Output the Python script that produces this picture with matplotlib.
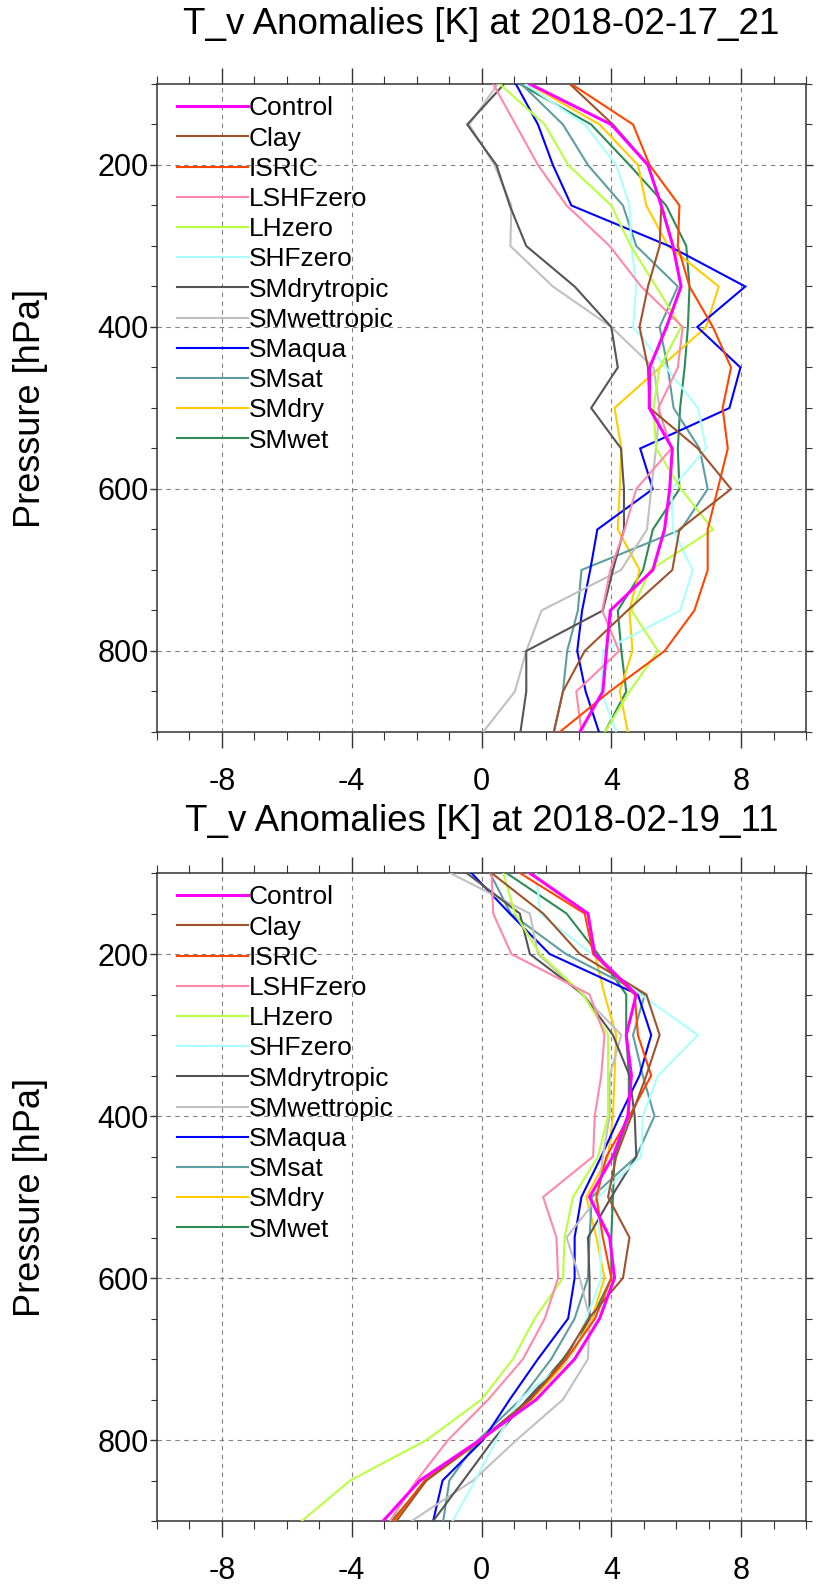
import matplotlib
matplotlib.use("Agg")
import matplotlib.pyplot as plt
from matplotlib.ticker import MultipleLocator, FixedLocator
import numpy as np

plt.rcParams['font.family'] = ['Liberation Sans', 'DejaVu Sans']
plt.rcParams['axes.unicode_minus'] = False

levels = [100, 150, 200, 250, 300, 350, 400, 450, 500, 550, 600, 650, 700, 750, 800, 850, 900]

names = ["Control", "Clay", "ISRIC", "LSHFzero", "LHzero", "SHFzero", "SMdrytropic",
         "SMwettropic", "SMaqua", "SMsat", "SMdry", "SMwet"]
colors = ["#FF00FF", "#A0522D", "#FF4500", "#FF88AA", "#B8FF40", "#AAFFFF", "#555555",
          "#C0C0C0", "#0000FF", "#5F9EA0", "#FFCC00", "#2E8B57"]

titles = ["T_v Anomalies [K] at 2018-02-17_21", "T_v Anomalies [K] at 2018-02-19_11"]

# Panel 1: 2018-02-17_21
control1 = [1.49, 4.0, 5.13, 5.54, 5.9, 6.15, 5.7, 5.18, 5.17, 5.88, 5.8, 5.64, 5.28, 3.97, 3.85, 3.74, 3.03]
clay1 = [2.72, 4.05, 5.13, 5.54, 5.49, 5.13, 4.87, 5.13, 5.18, 6.67, 7.69, 6.1, 5.88, 4.5, 3.18, 2.51, 2.23]
isric1 = [2.77, 4.67, 5.18, 6.1, 6.05, 6.41, 7.13, 7.69, 7.43, 7.59, 7.28, 6.97, 6.97, 6.56, 5.64, 3.95, 2.41]
lshf1 = [0.36, 1.05, 1.74, 2.62, 3.95, 4.92, 6.2, 6.05, 5.45, 5.85, 4.77, 4.41, 3.97, 3.72, 4.24, 2.92, 3.08]
lh1 = [0.56, 1.95, 2.67, 4.0, 4.6, 5.38, 6.15, 5.49, 5.3, 5.38, 6.15, 7.13, 5.2, 4.62, 5.44, 4.56, 3.8]
shf1 = [1.35, 3.18, 4.15, 4.56, 4.62, 4.77, 4.67, 5.69, 6.67, 6.92, 5.85, 5.9, 6.51, 6.12, 3.74, 3.69, 4.15]
drytrop1 = [0.7, -0.44, 0.46, 0.87, 1.38, 2.87, 4.0, 4.2, 3.38, 4.3, 4.39, 4.39, 4.05, 3.74, 1.38, 1.38, 1.2]
wettrop1 = [0.5, -0.38, 0.4, 0.92, 0.89, 2.2, 4.0, 5.3, 5.49, 5.38, 5.23, 5.1, 4.3, 1.85, 1.38, 1.03, 0.05]
aqua1 = [1.06, 1.74, 2.2, 2.77, 5.78, 8.13, 6.65, 7.98, 7.64, 4.89, 5.28, 3.57, 3.35, 3.1, 2.95, 3.21, 3.62]
sat1 = [1.23, 2.51, 3.28, 4.36, 4.77, 6.05, 5.49, 5.74, 5.92, 6.72, 6.97, 6.15, 3.08, 2.97, 2.64, 2.51, 2.23]
dry1 = [1.45, 3.64, 4.82, 5.08, 5.75, 7.31, 6.92, 5.5, 4.1, 4.31, 4.26, 4.2, 4.87, 4.56, 4.65, 4.26, 4.51]
wet1 = [1.18, 3.38, 4.56, 5.69, 6.31, 6.41, 6.36, 6.26, 6.12, 6.05, 6.1, 5.28, 4.98, 4.2, 4.31, 4.46, 3.8]

# Panel 2: 2018-02-19_11
control2 = [1.49, 3.28, 3.49, 4.77, 4.46, 4.62, 4.51, 4.05, 3.33, 3.95, 4.1, 3.64, 2.87, 1.69, -0.05, -1.9, -3.03]
clay2 = [0.31, 1.9, 3.03, 5.08, 5.49, 5.08, 4.62, 4.15, 3.9, 4.56, 4.36, 3.3, 2.55, 1.5, -0.05, -1.7, -2.62]
isric2 = [1.18, 3.18, 3.44, 4.72, 4.82, 5.23, 4.56, 3.85, 3.54, 3.74, 4.0, 3.5, 2.62, 1.5, 0.0, -1.75, -2.72]
lshf2 = [0.31, 0.36, 0.92, 3.33, 3.79, 3.69, 3.49, 3.44, 1.9, 2.31, 2.36, 1.95, 1.28, 0.21, -1.03, -2.0, -2.82]
lh2 = [0.67, 1.03, 1.8, 3.13, 3.9, 3.9, 3.9, 3.59, 2.82, 2.56, 2.51, 1.64, 0.97, 0.0, -1.69, -4.05, -5.54]
shf2 = [1.69, 1.8, 3.4, 4.9, 6.67, 5.44, 4.97, 4.92, 3.6, 3.64, 3.69, 3.23, 2.7, 1.18, 0.46, -0.2, -0.89]
drytrop2 = [-0.46, 1.18, 1.49, 3.13, 4.05, 4.56, 4.72, 4.77, 4.0, 3.28, 3.33, 3.33, 2.55, 1.4, 0.36, -0.56, -1.49]
wettrop2 = [-0.97, 1.49, 1.74, 3.1, 4.31, 3.95, 3.95, 3.74, 3.6, 2.62, 3.03, 3.33, 3.28, 2.51, 1.08, -0.26, -2.15]
aqua2 = [-0.31, 0.87, 2.1, 4.82, 5.23, 4.87, 4.26, 3.69, 3.08, 2.87, 2.87, 2.67, 1.74, 0.87, 0.05, -1.2, -1.49]
sat2 = [0.26, 0.9, 2.6, 5.03, 4.67, 4.97, 5.33, 4.77, 3.4, 3.33, 3.28, 2.87, 2.15, 1.2, -0.1, -0.99, -1.18]
dry2 = [1.45, 3.28, 3.49, 3.79, 4.15, 4.1, 4.05, 3.9, 3.23, 3.54, 3.79, 3.4, 2.7, 1.55, 0.0, -1.7, -2.68]
wet2 = [0.77, 2.62, 3.59, 4.46, 4.46, 4.54, 4.54, 4.1, 4.05, 4.0, 4.0, 3.4, 2.51, 1.45, 0.0, -1.7, -2.77]

panel1 = [control1, clay1, isric1, lshf1, lh1, shf1, drytrop1, wettrop1, aqua1, sat1, dry1, wet1]
panel2 = [control2, clay2, isric2, lshf2, lh2, shf2, drytrop2, wettrop2, aqua2, sat2, dry2, wet2]

W, H = 817, 1587
fig = plt.figure(figsize=(W / 100, H / 100), dpi=100)

ax_left = 157 / W
ax_w = 649 / W
ax_h = 648 / H
tops = [84, 873]
title_y = [24, 822]

for k, (series, top) in enumerate(zip([panel1, panel2], tops)):
    ax = fig.add_axes([ax_left, 1 - top / H - ax_h, ax_w, ax_h])
    for i in reversed(range(len(names))):
        lw = 2.2 if i == 0 else 1.5
        ax.plot(series[i], levels, color=colors[i], lw=lw, label=names[i],
                solid_joinstyle='miter', zorder=3 + (len(names) - i) * 0.01)
    ax.set_xlim(-10, 10)
    ax.set_ylim(900, 100)
    ax.xaxis.set_major_locator(FixedLocator([-8, -4, 0, 4, 8]))
    ax.xaxis.set_minor_locator(MultipleLocator(1))
    ax.yaxis.set_major_locator(FixedLocator([200, 400, 600, 800]))
    ax.yaxis.set_minor_locator(MultipleLocator(50))
    ax.tick_params(axis='x', which='major', direction='out', length=11.5, width=1.0,
                   top=True, bottom=True, labelsize=22, pad=14, color='#333333')
    ax.tick_params(axis='x', which='minor', direction='out', length=5.5, width=0.8,
                   top=True, bottom=True, color='#333333')
    ax.tick_params(axis='y', which='major', direction='out', length=5, width=1.0,
                   left=True, right=True, labelsize=22, pad=1, color='#333333')
    ax.tick_params(axis='y', which='minor', direction='out', length=4, width=0.8,
                   left=True, right=True, color='#333333')
    for s in ax.spines.values():
        s.set_linewidth(1.1)
        s.set_color('#333333')
    ax.grid(which='major', color='#808080', linestyle=(0, (4, 4)), lw=0.8, zorder=0)
    ax.set_axisbelow(True)

    handles, labels = ax.get_legend_handles_labels()
    handles, labels = handles[::-1], labels[::-1]
    ax.legend(handles, labels, loc='upper left', bbox_to_anchor=(0.018, 0.993),
              frameon=False, fontsize=19, handlelength=2.69, handletextpad=0.05,
              labelspacing=0.235, borderpad=0.3, borderaxespad=0)

    fig.text(ax_left + ax_w / 2, 1 - title_y[k] / H, titles[k], ha='center', va='center',
             fontsize=26.5)
    fig.text(31 / W, 1 - (top + 324) / H, "Pressure [hPa]", rotation=90,
             ha='center', va='center', fontsize=26)

fig.savefig("out.png", dpi=100)
